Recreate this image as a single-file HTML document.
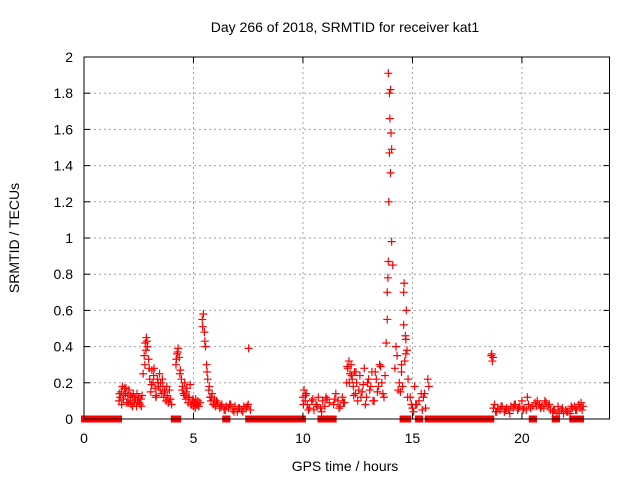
<!DOCTYPE html>
<html><head><meta charset="utf-8"><style>
body{margin:0;background:#fff;width:640px;height:480px;overflow:hidden}
svg{font-family:"Liberation Sans",sans-serif;font-size:14px}
</style></head><body>
<svg id="chart" width="640" height="480" viewBox="0 0 640 480" xmlns="http://www.w3.org/2000/svg">
<text x="345" y="32" text-anchor="middle" fill="#000">Day 266 of 2018, SRMTID for receiver kat1</text>
<text transform="translate(19,238) rotate(-90)" text-anchor="middle" fill="#000">SRMTID / TECUs</text>
<text x="345" y="471" text-anchor="middle" fill="#000">GPS time / hours</text>
<g id="grid"></g><g id="zeros"></g><g id="pts"></g><g id="axes"></g>
</svg>
<script>
const xTicks=[0,5,10,15,20];
const yTicks=[0,0.2,0.4,0.6,0.8,1,1.2,1.4,1.6,1.8,2];
const yTickLabels=["0","0.2","0.4","0.6","0.8","1","1.2","1.4","1.6","1.8","2"];
const zeroRanges=[[0,1.6],[4.1,4.3],[6.45,6.55],[7.5,10.0],[10.8,11.4],[14.55,14.8],[15.25,15.35],[15.7,18.6],[20.45,20.55],[21.5,21.6],[22.3,22.35],[22.6,22.7]];
const hours=[1.6,1.65,1.7,1.75,1.8,1.85,1.9,1.95,2.0,2.05,2.1,2.15,2.2,2.25,2.3,2.35,2.4,2.45,2.5,2.55,2.6,2.65,
2.7,2.75,2.8,2.85,2.9,2.95,3.0,3.05,3.1,3.15,3.2,3.25,3.3,3.35,3.4,3.45,3.5,3.55,3.6,3.65,3.7,3.75,3.8,3.85,3.9,3.95,4.0,
4.2,4.25,4.3,4.35,4.4,4.45,4.5,4.55,4.6,4.65,4.7,4.75,4.8,4.85,4.9,4.95,5.0,5.05,5.1,5.15,5.2,5.25,5.3,
5.4,5.45,5.5,5.55,5.6,5.65,5.7,5.75,5.8,5.85,5.9,5.95,6.0,6.1,6.2,6.3,6.4,6.5,6.6,6.7,6.8,6.9,7.0,7.1,7.2,7.3,7.4,7.5,7.6,7.52,
10.0,10.05,10.1,10.15,10.2,10.3,10.4,10.5,10.6,10.7,10.8,10.9,11.0,11.1,11.2,
11.4,11.5,11.6,11.7,11.8,11.9,12.0,12.05,12.1,12.15,12.2,12.25,12.3,12.35,12.4,12.45,12.5,12.6,12.7,12.8,12.9,13.0,13.1,13.2,13.3,13.4,13.5,13.6,13.7,
13.8,13.85,13.88,13.9,13.92,13.95,13.97,14.0,14.02,14.05,13.9,13.95,14.0,14.05,13.85,14.1,
14.2,14.3,14.4,14.45,14.5,14.55,14.6,14.65,14.7,14.75,14.8,14.6,14.62,14.7,14.72,
14.9,15.0,15.1,15.2,15.3,15.4,15.5,15.6,15.7,15.75,
18.6,18.65,18.7,18.75,18.8,18.9,19.0,19.1,19.2,19.3,19.4,19.5,19.6,19.7,19.8,19.9,20.0,20.1,20.2,20.3,20.4,20.5,20.6,20.7,20.8,20.9,21.0,21.1,21.2,21.3,21.4,21.5,21.6,21.7,21.8,21.9,22.0,22.1,22.2,22.3,22.4,22.5,22.6,22.7,22.8,
1.62,1.72,1.82,1.92,2.02,2.12,2.22,2.32,2.42,2.52,2.62,2.78,2.83,2.88,2.98,3.08,3.18,3.28,3.38,3.48,3.58,3.68,3.78,3.88,4.22,4.28,4.38,4.48,4.58,4.68,4.78,4.88,4.98,5.08,5.18,5.42,5.52,5.62,5.72,5.82,5.92,6.05,6.25,6.45,6.65,6.85,7.05,7.25,7.45,
10.02,10.12,10.25,10.45,10.65,10.85,11.05,11.45,11.65,11.85,12.02,12.12,12.22,12.32,12.42,12.55,12.65,12.75,12.85,12.95,13.05,13.15,13.25,13.35,13.45,13.55,13.65,13.75,14.25,14.35,14.5,14.68,14.78,14.95,15.05,15.15,15.45,15.55,
18.62,18.68,18.85,19.05,19.25,19.45,19.65,19.85,20.05,20.25,20.65,20.85,21.05,21.25,21.45,21.65,21.85,22.05,22.25,22.45,22.65,22.75];
const values=[.10,.12,.15,.18,.11,.17,.14,.09,.13,.16,.10,.08,.12,.14,.09,.11,.07,.10,.12,.08,.11,.13,
.25,.35,.42,.45,.40,.33,.22,.15,.27,.20,.28,.17,.13,.22,.18,.25,.20,.14,.18,.12,.16,.10,.13,.09,.16,.11,.08,
.30,.36,.39,.34,.27,.22,.18,.14,.20,.11,.17,.09,.12,.19,.08,.10,.07,.09,.11,.08,.10,.07,.09,
.55,.58,.48,.40,.30,.22,.16,.12,.10,.14,.08,.11,.07,.09,.06,.08,.05,.07,.06,.08,.05,.07,.04,.06,.05,.07,.06,.08,.05,.39,
.12,.16,.10,.14,.08,.06,.10,.05,.08,.12,.06,.10,.07,.11,.09,
.08,.14,.10,.07,.12,.09,.20,.28,.32,.25,.30,.22,.18,.26,.14,.20,.10,.24,.15,.28,.12,.22,.18,.10,.26,.15,.30,.20,.12,
.42,.55,.78,.87,1.20,1.47,1.66,1.82,1.58,1.49,1.91,1.80,1.36,.98,.70,.85,
.28,.35,.20,.15,.26,.18,.52,.32,.44,.38,.22,.70,.75,.36,.60,
.12,.06,.18,.08,.10,.14,.12,.06,.22,.18,
.35,.32,.06,.08,.04,.06,.05,.07,.04,.06,.05,.07,.06,.08,.05,.07,.10,.06,.05,.08,.06,.07,.09,.10,.08,.07,.06,.09,.07,.05,.04,.05,.03,.04,.05,.03,.05,.04,.03,.06,.07,.05,.08,.09,.07,
.14,.08,.13,.17,.09,.13,.07,.12,.14,.09,.07,.30,.38,.43,.28,.19,.24,.12,.20,.16,.22,.15,.18,.11,.33,.37,.25,.16,.13,.15,.12,.08,.11,.06,.08,.51,.43,.26,.18,.12,.08,.10,.07,.05,.08,.04,.06,.04,.07,
.08,.13,.05,.11,.07,.04,.12,.11,.06,.09,.29,.20,.24,.13,.26,.16,.12,.19,.08,.20,.16,.26,.10,.22,.18,.29,.14,.24,.40,.16,.30,.46,.12,.08,.04,.08,.05,.14,
.36,.34,.04,.07,.05,.03,.08,.06,.05,.12,.07,.06,.10,.08,.05,.07,.06,.04,.07,.05,.06,.05];
const X0=84,X1=609.5,Y0=419,Y1=57,XMAX=24,YMAX=2;
const sx=h=>X0+(X1-X0)*h/XMAX, sy=v=>Y0-(Y0-Y1)*v/YMAX;
const NS="http://www.w3.org/2000/svg";
function mk(t,a,p){const e=document.createElementNS(NS,t);for(const k in a)e.setAttribute(k,a[k]);p.appendChild(e);return e;}
const grid=document.getElementById('grid'),axes=document.getElementById('axes'),pts=document.getElementById('pts'),zg=document.getElementById('zeros');
xTicks.forEach((t,i)=>{const x=sx(t);
 if(t>0){const g=mk('line',{x1:x,x2:x,y1:Y0,y2:Y1,stroke:'#a0a0a0','stroke-dasharray':'2,3'},grid);
 
 }
 mk('line',{x1:x,x2:x,y1:Y0,y2:Y0-6,stroke:'#000'},axes);
 mk('line',{x1:x,x2:x,y1:Y1,y2:Y1+6,stroke:'#000'},axes);
 const l=mk('text',{x:x,y:443,'text-anchor':'middle',fill:'#000'},axes);l.textContent=t;
 
 
});
yTicks.forEach((t,i)=>{const y=sy(t);
 if(t>0&&t<2){const g=mk('line',{x1:X0,x2:X1,y1:y,y2:y,stroke:'#a0a0a0','stroke-dasharray':'2,3'},grid);
 
 }
 mk('line',{x1:X0,x2:X0+6,y1:y,y2:y,stroke:'#000'},axes);
 mk('line',{x1:X1,x2:X1-6,y1:y,y2:y,stroke:'#000'},axes);
 const l=mk('text',{x:73,y:y+5,'text-anchor':'end',fill:'#000'},axes);l.textContent=yTickLabels[i];
 
 
});
const fr=mk('rect',{x:X0,y:Y1,width:X1-X0,height:Y0-Y1,fill:'none',stroke:'#000'},axes);


zeroRanges.forEach(r=>{const a=sx(r[0])-3,b=sx(r[1])+3;
 const e=mk('rect',{x:a,y:Y0-3.5,width:b-a,height:7,fill:'#f00'},zg);
 
 
});
hours.forEach((h,i)=>{const x=sx(h),y=sy(values[i]);
 const p=mk('path',{d:`M${x-4},${y}h8M${x},${y-4}v8`,stroke:'#f00','stroke-width':1.2,fill:'none'},pts);
 
 
});
</script>
</body></html>
